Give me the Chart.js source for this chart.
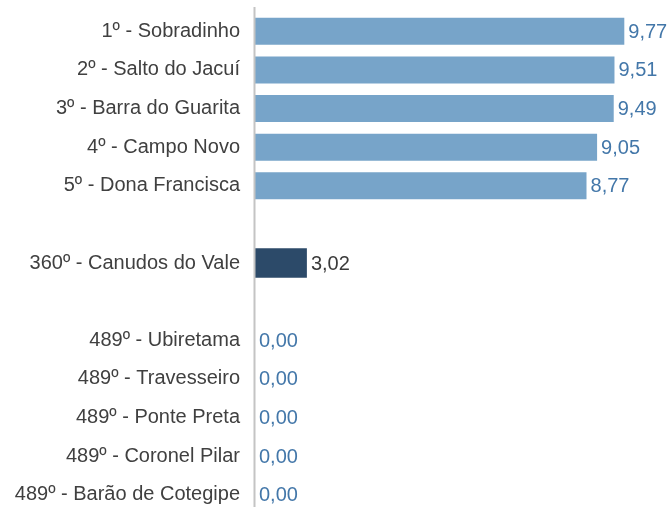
<!DOCTYPE html>
<html>
<head>
<meta charset="utf-8">
<script src="https://cdn.jsdelivr.net/npm/chart.js@4/dist/chart.umd.min.js"></script>
<style>
  html, body { margin: 0; padding: 0; background: #fff; overflow: hidden; }
  #wrap { width: 672px; height: 507px; overflow: hidden; }
</style>
</head>
<body>
<div id="wrap"><canvas id="ranking" width="672" height="516"></canvas></div>
<script>
// Ranking rows (empty strings are spacer rows between groups)
const municipios = [
    '1º - Sobradinho',
    '2º - Salto do Jacuí',
    '3º - Barra do Guarita',
    '4º - Campo Novo',
    '5º - Dona Francisca',
    '',
    '360º - Canudos do Vale',
    '',
    '489º - Ubiretama',
    '489º - Travesseiro',
    '489º - Ponte Preta',
    '489º - Coronel Pilar',
    '489º - Barão de Cotegipe'
];

// Top / bottom of the ranking
const notasRanking = [9.77, 9.51, 9.49, 9.05, 8.77, null, null, null, 0, 0, 0, 0, 0];

// Highlighted municipality (own axis)
const notaDestaque = [null, null, null, null, null, null, 3.02, null, null, null, null, null, null];

const FONT = "'Liberation Sans', Arial, sans-serif";

// Draws the value next to the end of every bar
const valueLabels = {
    id: 'valueLabels',
    afterDatasetsDraw(chart) {
        const ctx = chart.ctx;
        ctx.save();
        ctx.font = '20px ' + FONT;
        ctx.textBaseline = 'middle';
        ctx.textAlign = 'left';
        chart.data.datasets.forEach((ds, i) => {
            const meta = chart.getDatasetMeta(i);
            meta.data.forEach((bar, j) => {
                const v = ds.data[j];
                if (v === null || v === undefined) return;
                ctx.fillStyle = ds.labelColor;
                ctx.fillText(v.toFixed(2).replace('.', ','), bar.x + 4, bar.y + 1);
            });
        });
        ctx.restore();
    }
};

// Vertical axis line on the left of the plot
const axisLine = {
    id: 'axisLine',
    afterDatasetsDraw(chart) {
        const ctx = chart.ctx;
        const x = chart.chartArea.left - 0.5;
        ctx.save();
        ctx.strokeStyle = '#c4c4c4';
        ctx.lineWidth = 2;
        ctx.beginPath();
        ctx.moveTo(x, 7);
        ctx.lineTo(x, chart.height);
        ctx.stroke();
        ctx.restore();
    }
};

new Chart(document.getElementById('ranking'), {
    type: 'bar',
    data: {
        labels: municipios,
        datasets: [
            {
                data: notasRanking,
                backgroundColor: '#77a4c9',
                labelColor: '#4377a9',
                xAxisID: 'x',
                grouped: false,
                barPercentage: 0.7,
                categoryPercentage: 1
            },
            {
                data: notaDestaque,
                backgroundColor: '#2c4a69',
                labelColor: '#3a3a3a',
                xAxisID: 'x2',
                grouped: false,
                barPercentage: 0.77,
                categoryPercentage: 1
            }
        ]
    },
    options: {
        indexAxis: 'y',
        responsive: false,
        animation: false,
        layout: { padding: { top: 12, right: 39, bottom: 2, left: 0 } },
        plugins: {
            legend: { display: false },
            tooltip: { enabled: false }
        },
        scales: {
            x: { display: false, min: 0, max: 10 },
            x2: { display: false, min: 0, max: 22 },
            y: {
                grid: { display: false, drawTicks: false },
                border: { display: false },
                ticks: {
                    color: '#404040',
                    padding: 15,
                    font: { family: FONT, size: 20 }
                },
                afterFit(scale) {
                    scale.width = 255;
                    // rows run edge to edge, no extra room for tick labels
                    scale.paddingTop = 0;
                    scale.paddingBottom = 0;
                }
            }
        }
    },
    plugins: [valueLabels, axisLine]
});
</script>
</body>
</html>
